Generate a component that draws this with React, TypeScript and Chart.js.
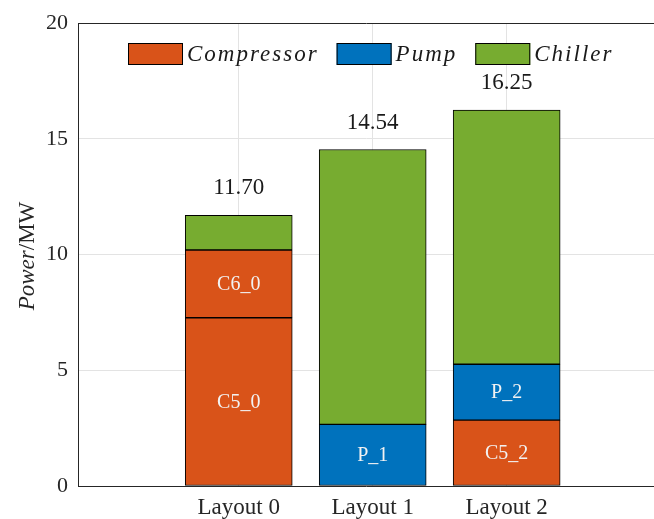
import React, { useEffect, useRef } from "react";
import { Chart, registerables } from "chart.js";
Chart.register(...registerables);

const categories = ["Layout 0", "Layout 1", "Layout 2"];
const categoryPositions = [1, 2, 3];
const compressorC5 = [7.27, null, 2.85];
const compressorC6 = [2.93, null, null];
const pump = [null, 2.66, 2.41];
const chiller = [1.5, 11.88, 10.99];
const c5Labels = ["C5_0", "", "C5_2"];
const c6Labels = ["C6_0", "", ""];
const pumpLabels = ["", "P_1", "P_2"];
const chillerLabels = ["", "", ""];
const legendLabels = ["Compressor", "Pump", "Chiller"];
const yMin = 0;
const yMax = 20;
const yStep = 5;

const ORANGE = "#D95319";
const BLUE = "#0072BD";
const GREEN = "#77AC30";
const AXIS = "#262626";
const GRID = "#e3e3e3";
const FONT = "'Liberation Serif', 'Times New Roman', serif";

export default function App() {
  const ref = useRef<HTMLCanvasElement | null>(null);
  useEffect(() => {
    if (!ref.current) return;
    const toPts = (arr: (number | null)[]) =>
      categoryPositions.map((x, i) => ({ x, y: arr[i] }));
    const totals = categoryPositions.map(
      (_, i) =>
        (compressorC5[i] || 0) + (compressorC6[i] || 0) + (pump[i] || 0) + (chiller[i] || 0)
    );
    const segLabels = [c5Labels, c6Labels, pumpLabels, chillerLabels];

    const decor = {
      id: "decor",
      afterDatasetsDraw(chart: any) {
        const ctx = chart.ctx as CanvasRenderingContext2D;
        const ys = chart.scales.y;
        ctx.save();
        ctx.font = `20px ${FONT}`;
        ctx.fillStyle = "#f2f2f2";
        ctx.textAlign = "center";
        ctx.textBaseline = "middle";
        chart.data.datasets.forEach((ds: any, di: number) => {
          const meta = chart.getDatasetMeta(di);
          meta.data.forEach((bar: any, i: number) => {
            const lab = segLabels[di][i];
            if (!lab || ds.data[i].y == null) return;
            const p = bar.getProps(["x", "y", "base"], true);
            ctx.fillText(lab, p.x, (p.y + p.base) / 2 + 1);
          });
        });
        ctx.font = `23px ${FONT}`;
        ctx.fillStyle = "#1a1a1a";
        totals.forEach((t, i) => {
          const x = chart.scales.x.getPixelForValue(categoryPositions[i]);
          const y = ys.getPixelForValue(t);
          ctx.fillText(t.toFixed(2), x, y - 27);
        });
        ctx.restore();
      },
      afterDraw(chart: any) {
        const ctx = chart.ctx as CanvasRenderingContext2D;
        ctx.save();
        const colors = [ORANGE, BLUE, GREEN];
        let x = 128;
        const top = 43;
        ctx.font = `italic 23px ${FONT}`;
        (ctx as any).letterSpacing = "2px";
        ctx.textBaseline = "middle";
        ctx.textAlign = "left";
        legendLabels.forEach((lab, i) => {
          ctx.fillStyle = colors[i];
          ctx.fillRect(x, top, 55, 22);
          ctx.strokeStyle = "#000";
          ctx.lineWidth = 1;
          ctx.strokeRect(x + 0.5, top + 0.5, 54, 21);
          ctx.fillStyle = "#1a1a1a";
          ctx.fillText(lab, x + 59, top + 12);
          const w = ctx.measureText(lab).width;
          x = x + 59 + w + 18;
        });
        (ctx as any).letterSpacing = "0px";
        ctx.translate(28, 256);
        ctx.rotate(-Math.PI / 2);
        ctx.font = `italic 23px ${FONT}`;
        const w1 = ctx.measureText("Power").width;
        ctx.font = `23px ${FONT}`;
        const w2 = ctx.measureText("/MW").width;
        const start = -(w1 + w2) / 2;
        ctx.fillStyle = "#262626";
        ctx.textBaseline = "middle";
        ctx.font = `italic 23px ${FONT}`;
        ctx.fillText("Power", start, 0);
        ctx.font = `23px ${FONT}`;
        ctx.fillText("/MW", start + w1, 0);
        ctx.restore();
      },
    };

    const chart = new Chart(ref.current, {
      type: "bar",
      data: {
        datasets: [
          { label: "Compressor", data: toPts(compressorC5), backgroundColor: ORANGE },
          { label: "Compressor", data: toPts(compressorC6), backgroundColor: ORANGE },
          { label: "Pump", data: toPts(pump), backgroundColor: BLUE },
          { label: "Chiller", data: toPts(chiller), backgroundColor: GREEN },
        ].map((d) => ({
          ...d,
          borderColor: "#000",
          borderWidth: 1,
          borderSkipped: false,
          barThickness: 107,
        })) as any,
      },
      options: {
        responsive: false,
        animation: false,
        layout: { padding: { top: 22, left: 0, right: 0, bottom: 0 } },
        plugins: { legend: { display: false }, tooltip: { enabled: false }, title: { display: false } },
        scales: {
          x: {
            type: "linear",
            min: -0.2,
            max: 4.1,
            stacked: true,
            offset: false,
            grid: { color: GRID, drawTicks: false, tickLength: 0, offset: false },
            border: { color: AXIS, width: 1 },
            ticks: {
              autoSkip: false,
              maxRotation: 0,
              padding: 8,
              color: "#262626",
              font: { family: FONT, size: 23 },
              callback: (v: any) => {
                const i = categoryPositions.indexOf(Number(v));
                return i >= 0 ? categories[i] : "";
              },
            },
            afterBuildTicks: (s: any) => {
              s.ticks = categoryPositions.map((v) => ({ value: v }));
            },
            afterFit: (s: any) => {
              s.height = 33;
            },
          } as any,
          y: {
            min: yMin,
            max: yMax,
            stacked: true,
            grid: {
              color: (c: any) => (c.tick && c.tick.value === yMax ? AXIS : GRID),
              drawTicks: false,
              tickLength: 0,
            },
            border: { color: AXIS, width: 1 },
            ticks: {
              stepSize: yStep,
              padding: 10,
              color: "#262626",
              font: { family: FONT, size: 22 },
            },
            afterFit: (s: any) => {
              s.width = 78;
            },
          } as any,
        },
      },
      plugins: [decor],
    });
    return () => chart.destroy();
  }, []);

  return (
    <div style={{ position: "fixed", left: 0, top: 0, width: 654, height: 519, overflow: "hidden", background: "#fff" }}>
      <canvas ref={ref} width={654} height={519} style={{ width: 654, height: 519, display: "block" }} />
    </div>
  );
}
